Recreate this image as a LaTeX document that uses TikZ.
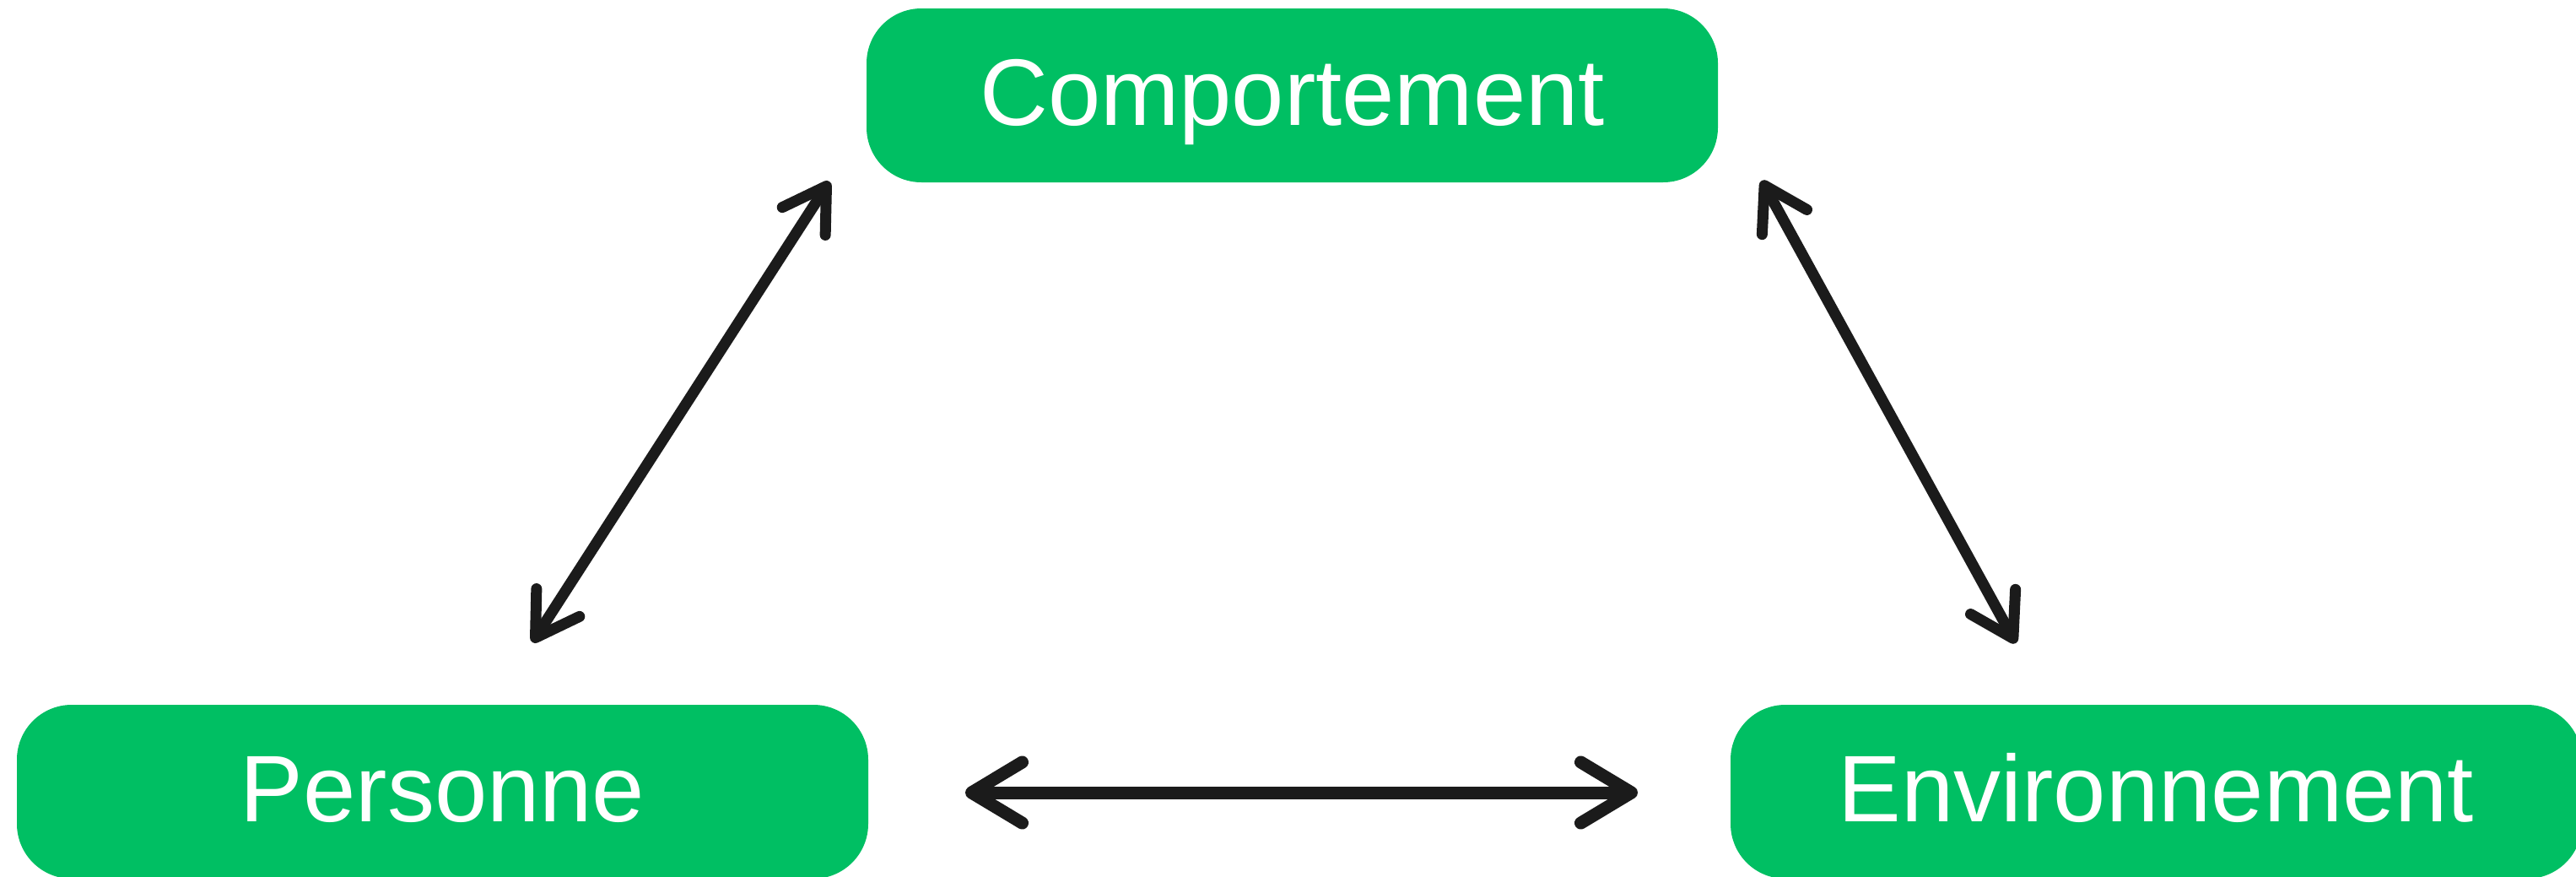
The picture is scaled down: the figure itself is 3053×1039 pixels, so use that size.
\documentclass[tikz,border=0pt]{standalone}
\usepackage{fontspec}
\usepackage{tikz}
\usetikzlibrary{arrows.meta}
\newfontfamily\boxfont{Liberation Sans}
\definecolor{boxgreen}{RGB}{0,191,99}
\definecolor{arrowdark}{RGB}{27,27,27}

\begin{document}
\begin{tikzpicture}[x=0.5pt,y=0.5pt,yscale=-1,xscale=1,
  box/.style={fill=boxgreen, draw=none, rounded corners=32.5pt, inner sep=0pt,
    minimum width=504.5pt, minimum height=103pt, text=white,
    font=\boxfont\fontsize{56pt}{62pt}\selectfont, text height=40.1pt, text depth=5pt},
  twoway/.style={draw=arrowdark, line width=6.5pt, line cap=round,
    {Straight Barb[angle=63:29pt, round]}-{Straight Barb[angle=63:29pt, round]}},
  twowayflat/.style={draw=arrowdark, line width=7.5pt, line cap=round,
    {Straight Barb[angle=62:35pt, round]}-{Straight Barb[angle=62:35pt, round]}}]
%set diagram to the size of the picture
\useasboundingbox (0,0) rectangle (3053,1039);

%Shape: Rounded Rectangle [id:comport]
\node [box] (comport) at (1531.5,113) {Comportement};
%Shape: Rounded Rectangle [id:personne]
\node [box] (personne) at (524.5,938) {Personne};
%Shape: Rounded Rectangle [id:environ]
\node [box] (environ) at (2555.5,938) {Environnement};

%Arrow ends
\coordinate (pers-top) at (631,761);
\coordinate (comp-left) at (983,215);
\coordinate (comp-right) at (2088,214);
\coordinate (env-top) at (2389,762);
\coordinate (pers-right) at (1144,939);
\coordinate (env-left) at (1941,939);

%Straight Lines
\draw [twoway] (pers-top) -- (comp-left);
\draw [twoway] (comp-right) -- (env-top);
\draw [twowayflat] (pers-right) -- (env-left);

\end{tikzpicture}
\end{document}
